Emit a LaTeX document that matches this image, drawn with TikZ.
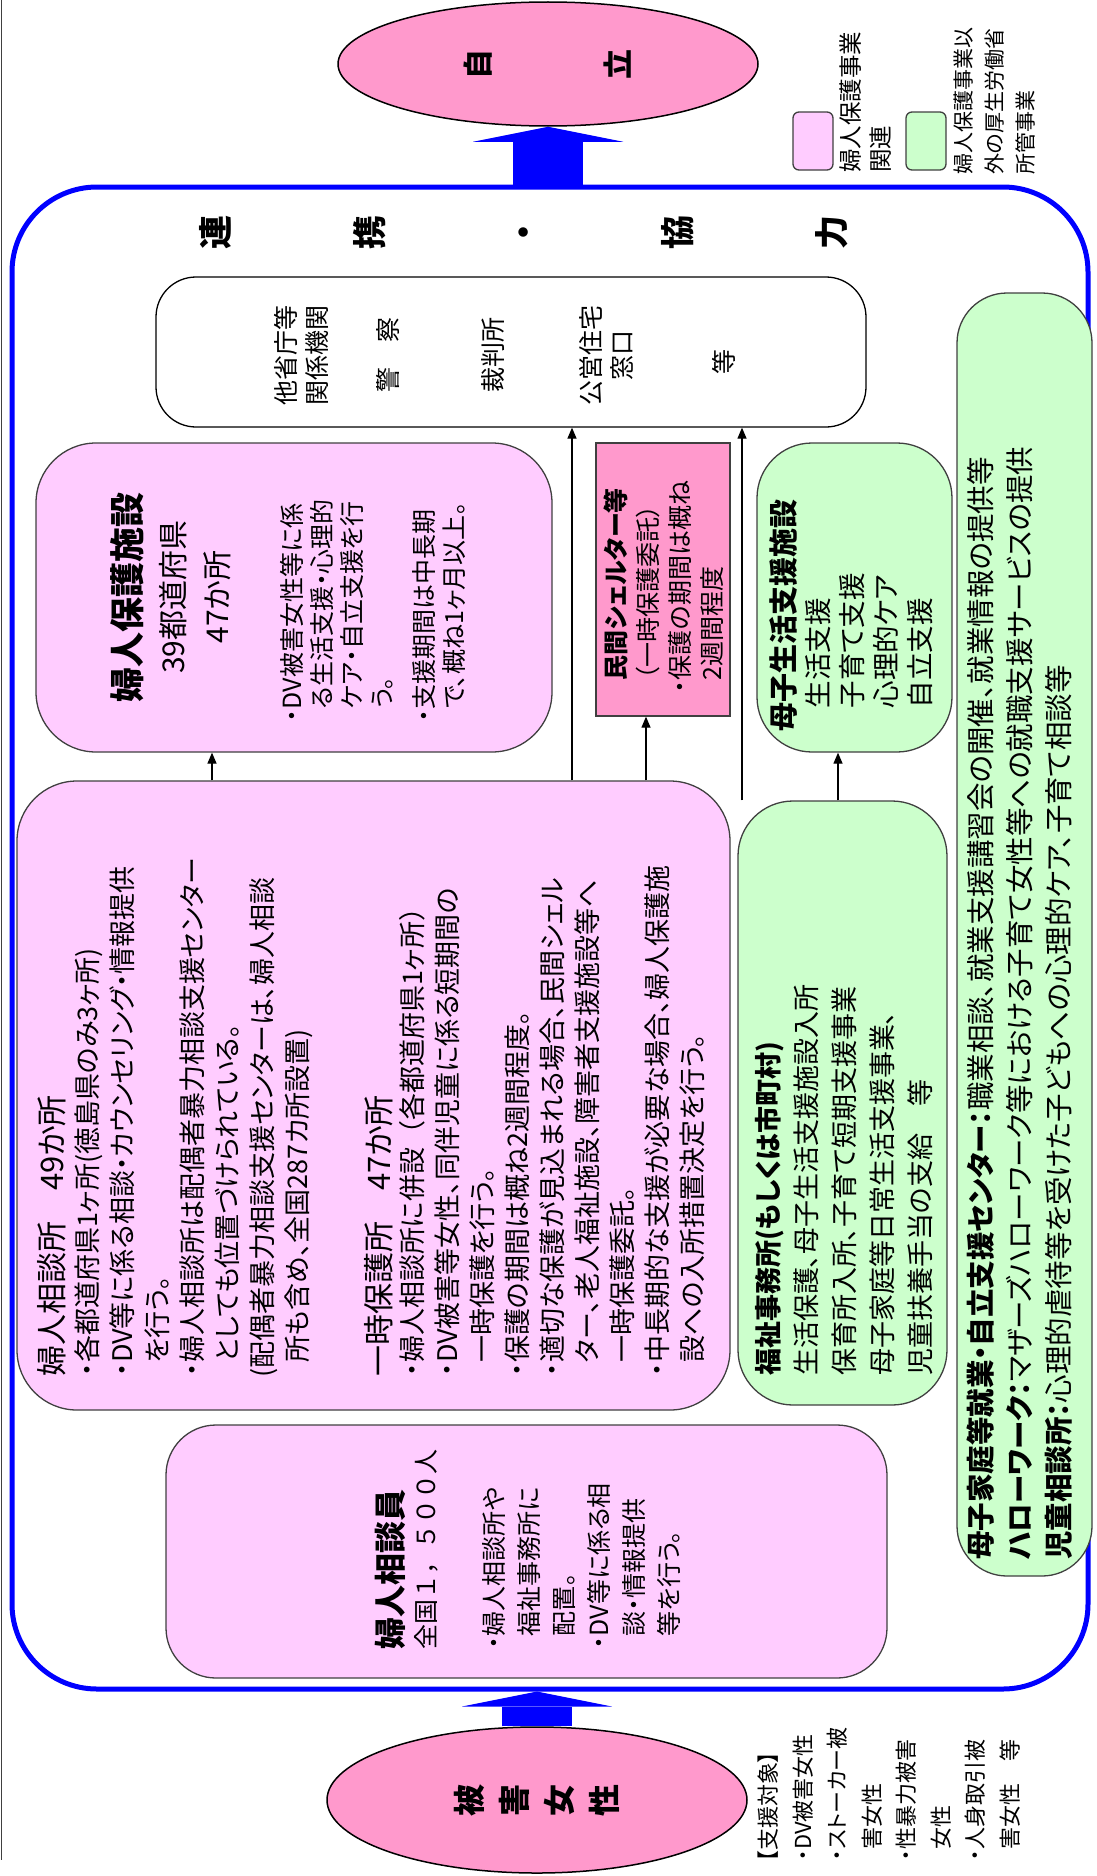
\documentclass[tikz,border=0pt]{standalone}
\usepackage{fontspec}
\setmainfont{Noto Sans CJK JP}[RawFeature=+palt]
\newfontfamily\jpfull{Noto Sans CJK JP}
\usetikzlibrary{shapes.geometric,arrows.meta}
\definecolor{pinkfill}{HTML}{FFCCFF}
\definecolor{hotpink}{HTML}{FF99CC}
\definecolor{greenfill}{HTML}{CCFFCC}
\definecolor{boxline}{HTML}{404040}
\definecolor{frameblue}{HTML}{0000FF}
\newcommand\mybul{\makebox[0.55em][c]{・}}
\newcommand\myind{\hspace*{0.55em}}
\newcommand\fs[2]{\fontsize{#1}{#2}\selectfont}
\begin{document}
\begin{tikzpicture}[x=1pt,y=-1pt,
  vt/.style={rotate=90,anchor=north west,inner sep=0pt,align=left},
  vc/.style={rotate=90,anchor=north,inner sep=0pt,align=center},
  vm/.style={rotate=90,anchor=center,inner sep=0pt,align=center},
  mybox/.style={draw=boxline,line width=1.3pt,inner sep=0pt},
  pinkbox/.style={mybox,fill=pinkfill,rounded corners=60pt},
  greenbox/.style={mybox,fill=greenfill,rounded corners=55pt},
  oval/.style={ellipse,draw=black,line width=1.5pt,fill=hotpink,inner sep=0pt},
  arr/.style={draw=black,line width=1.3pt,-{Triangle[length=11pt,width=9pt]}},
  bigarr/.style={draw=frameblue,line width=70pt,-{Triangle[length=15pt,width=150pt,line width=0pt]}},
]
\useasboundingbox (0,0) rectangle (1096,1876);
\draw[boxline,line width=1.5pt] (1.5,0) -- (1.5,1860);

% frame
\node[draw=frameblue,line width=5pt,rounded corners=85pt,minimum width=1076pt,minimum height=1502pt,inner sep=0pt] (frame) at (550,938) {};

% goal and start
\node[oval,minimum width=420pt,minimum height=124pt] (jiritsu) at (548,64) {};
\node[vm,font={\fs{30}{140}\bfseries}] (jiritsuT) at (jiritsu.center) {自\\立};
\node[oval,minimum width=420pt,minimum height=146pt] (higai) at (537,1800) {};
\node[vm,font={\fs{32}{45}\bfseries}] (higaiT) at (higai.center) {被\\害\\女\\性};
\draw[bigarr] (frame.north -| jiritsu.south) -- (jiritsu.south);
\draw[bigarr] (higai.north) -- (frame.south -| higai.north);

% legend
\node[mybox,fill=pinkfill,rounded corners=6pt,minimum width=40pt,minimum height=58pt] (legP) at (813,141) {};
\node[mybox,fill=greenfill,rounded corners=6pt,minimum width=40pt,minimum height=58pt] (legG) at (926,141) {};
\node[vt,font={\fs{23.5}{30}}] (legPT) at (840,173) {婦人保護事業\\関連};
\node[vt,font={\fs{21}{31}}] (legGT) at (954,175) {婦人保護事業以\\外の厚生労働省\\所管事業};

% renkei
\node[vc,font={\fs{34}{154}\bfseries}] (renkei) at (199,232) {連\\携\\・\\協\\力};

% other agencies
\node[mybox,draw=black,fill=white,rounded corners=40pt,minimum width=710pt,minimum height=150pt] (tasho) at (511,352) {};
\node[vc,font={\fs{25}{31}}] (tasho1) at (274,355) {他省庁等\\関係機関};
\node[vc,font={\fs{25}{31}}] (tasho2) at (376,355) {警　察};
\node[vc,font={\fs{25}{31}}] (tasho3) at (481,355) {裁判所};
\node[vc,font={\fs{25}{31}}] (tasho4) at (579,355) {公営住宅\\窓口};
\node[vc,font={\fs{25}{31}}] (tasho5) at (712,362) {等};

% fujin hogo shisetsu
\node[pinkbox,minimum width=516pt,minimum height=309pt] (hogo) at (294,597.5) {};
\node[vc,font={\fs{30}{44}}] (hogoT) at (110,597) {{\fs{35}{44}\bfseries 婦人保護施設}\\39都道府県\\47か所};
\node[vt,font={\fs{25}{30}}] (hogoB) at (280,723) {\mybul DV被害女性等に係\\\myind る生活支援・心理的\\\myind ケア・自立支援を行\\\myind う。\\[12pt]\mybul 支援期間は中長期\\\myind で、概ね1ヶ月以上。};

% shelter
\node[mybox,fill=hotpink,minimum width=134pt,minimum height=273pt] (shelter) at (663,579.5) {};
\node[vt,font={\fs{25}{32}}] (shelterT) at (604,694) {\myind{\bfseries 民間シェルター等}\\\myind （一時保護委託）\\\mybul 保護の期間は概ね\\\myind 2週間程度};

% boshi seikatsu shien shisetsu
\node[greenbox,minimum width=195pt,minimum height=309pt] (boshi) at (854.5,597.5) {};
\node[vt,font={\fs{27.5}{34}}] (boshiT) at (769,732) {{\fs{29}{34}\bfseries 母子生活支援施設}\\\hspace*{0.85em}生活支援\\\hspace*{0.85em}子育て支援\\\hspace*{0.85em}心理的ケア\\\hspace*{0.85em}自立支援};

% fujin soudanjo
\node[pinkbox,minimum width=713pt,minimum height=629pt] (soudanjo) at (373.5,1095.5) {};
\node[vt,font={\fs{31}{36}}] (soudanjoT) at (37.5,1377) {婦人相談所　49か所};
\node[vt,font={\fs{27}{35}}] (soudanjoB) at (74,1378) {\mybul 各都道府県1ヶ所(徳島県のみ3ヶ所)\\\mybul DV等に係る相談・カウンセリング・情報提供\\\myind を行う。\\\mybul 婦人相談所は配偶者暴力相談支援センター\\\myind としても位置づけられている。\\(配偶者暴力相談支援センターは、婦人相談\\\myind 所も含め、全国287カ所設置)};
\node[vt,font={\fs{31}{36}}] (ichijiT) at (364.5,1377) {一時保護所　47か所};
\node[vt,font={\fs{27}{35}}] (ichijiB) at (399,1378) {\mybul 婦人相談所に併設{\jpfull （}各都道府県1ヶ所{\jpfull ）}\\\mybul DV被害等女性、同伴児童に係る短期間の\\\myind 一時保護を行う。\\\mybul 保護の期間は概ね2週間程度。\\\mybul 適切な保護が見込まれる場合、民間シェル\\\myind ター、老人福祉施設、障害者支援施設等へ\\\myind 一時保護委託。\\\mybul 中長期的な支援が必要な場合、婦人保護施\\\myind 設への入所措置決定を行う。};

% fujin soudanin
\node[pinkbox,rounded corners=50pt,minimum width=721pt,minimum height=253pt] (soudanin) at (526.5,1551.5) {};
\node[vt,font={\fs{32}{36}\bfseries}] (soudaninT) at (375,1650) {婦人相談員};
\node[vt,font={\fs{25}{36}}] (soudaninN) at (414,1650) {{\jpfull 全国１，５００人}};
\node[vt,font={\fs{25}{35}}] (soudaninB) at (482,1650) {\mybul 婦人相談所や\\\myind 福祉事務所に\\\myind 配置。\\\mybul DV等に係る相\\\myind 談・情報提供\\\myind 等を行う。};

% fukushi jimusho
\node[greenbox,minimum width=209pt,minimum height=604pt] (fukushi) at (842.5,1103) {};
\node[vt,font={\fs{27}{38}}] (fukushiT) at (755,1376) {{\bfseries 福祉事務所(もしくは市町村)}\\生活保護、母子生活支援施設入所\\保育所入所、子育て短期支援事業\\母子家庭等日常生活支援事業、\\児童扶養手当の支給　等};

% right green box
\node[greenbox,rounded corners=50pt,minimum width=135pt,minimum height=1283pt] (shuro) at (1024.5,934.5) {};
\node[vt,font={\fs{28.5}{39}}] (shuroT) at (967,1560) {{\bfseries 母子家庭等就業・自立支援センター：}職業相談、就業支援講習会の開催、就業情報の提供等\\{\bfseries ハローワーク：}マザーズハローワーク等における子育て女性等への就職支援サービスの提供\\{\bfseries 児童相談所：}心理的虐待等を受けた子どもへの心理的ケア、子育て相談等};

% target list
\node[vt,font={\fs{22}{34.5}}] (taisho) at (758,1862) {【支援対象】\\\mybul DV被害女性\\\mybul ストーカー被\\\myind 害女性\\\mybul 性暴力被害\\\myind 女性\\\mybul 人身取引被\\\myind 害女性　等};

% arrows
\draw[arr] (soudanjo.north -| 212,0) -- (hogo.south -| 212,0);
\draw[arr] (soudanjo.north -| 572,0) -- (tasho.south -| 572,0);
\draw[arr] (soudanjo.north -| 646,0) -- (shelter.south -| 646,0);
\draw[arr] (fukushi.north -| 742,0) -- (tasho.south -| 742,0);
\draw[arr] (fukushi.north -| 838,0) -- (boshi.south -| 838,0);
\end{tikzpicture}
\end{document}
